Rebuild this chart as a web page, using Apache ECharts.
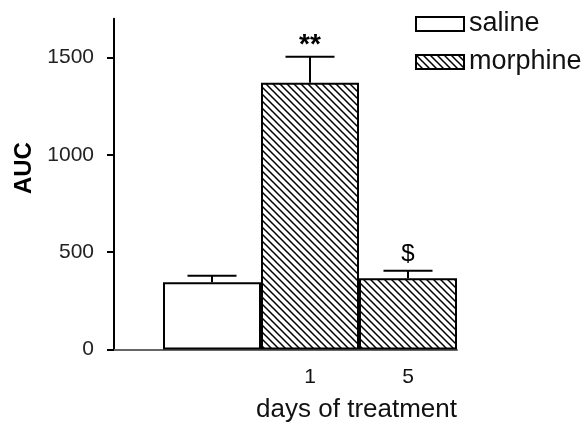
<!DOCTYPE html>
<html><head><meta charset="utf-8">
<script src="https://cdn.jsdelivr.net/npm/echarts@6/dist/echarts.min.js"></script>
<style>html,body{margin:0;padding:0;background:#fff}#c{width:585px;height:424px}</style>
</head><body><div id="c"></div>
<script>
// ---- data ----
const seriesNames = ['saline', 'morphine'];
const slotTickLabels = ['', '', '1', '5'];   // x tick labels by slot
const salineSlots = [1];
const salineMean = [345];
const salineSem = [34];
const morphineSlots = [2, 3];
const morphineMean = [1371, 366];
const morphineSem = [134, 39];
const morphineMarks = ['**', '$'];
const yTicks = [0, 500, 1000, 1500];

// ---- styles ----
const markStyle = {
  '**': { fontSize: 28, fontWeight: 'bold', gap: -3 },
  '$':  { fontSize: 24, fontWeight: 'normal', gap: 4 }
};
const FONT = '"Liberation Sans", Arial, Helvetica, sans-serif';

function hatch() {
  const s = 7, c = document.createElement('canvas');
  c.width = s; c.height = s;
  const g = c.getContext('2d');
  g.fillStyle = '#fff'; g.fillRect(0, 0, s, s);
  g.strokeStyle = '#000'; g.lineWidth = 1.5;
  g.beginPath();
  g.moveTo(-1, -1); g.lineTo(s + 1, s + 1);
  g.moveTo(-1, s - 1); g.lineTo(1, s + 1);
  g.moveTo(s - 1, -1); g.lineTo(s + 1, 1);
  g.stroke();
  return c;
}

function errRender(marks) {
  return function (params, api) {
    const x = api.value(0), m = api.value(1), e = api.value(2);
    const base = api.coord([x, m]), top = api.coord([x, m + e]);
    const half = api.size([1, 0])[0] * 0.25;
    const ls = { stroke: '#000', lineWidth: 2 };
    const children = [
      { type: 'line', shape: { x1: base[0], y1: base[1], x2: top[0], y2: top[1] }, style: ls },
      { type: 'line', shape: { x1: top[0] - half, y1: top[1], x2: top[0] + half, y2: top[1] }, style: ls }
    ];
    const mk = marks && marks[params.dataIndex];
    if (mk) {
      const st = markStyle[mk];
      children.push({
        type: 'text',
        style: {
          text: mk, x: top[0], y: top[1] - st.gap,
          align: 'center', verticalAlign: 'bottom',
          font: st.fontWeight + ' ' + st.fontSize + 'px ' + FONT,
          fill: '#000'
        }
      });
    }
    return { type: 'group', children: children };
  };
}

const chart = echarts.init(document.getElementById('c'), null, { renderer: 'canvas' });
const pattern = { image: hatch(), repeat: 'repeat' };

chart.setOption({
  animation: false,
  backgroundColor: '#fff',
  textStyle: { fontFamily: FONT },
  grid: { left: 114, right: 128, top: 18.7, bottom: 74.5 },
  legend: {
    data: seriesNames,
    orient: 'vertical',
    left: 415, top: 9, padding: 0,
    itemWidth: 48, itemHeight: 14, itemGap: 8,
    icon: 'rect',
    textStyle: { fontSize: 27, lineHeight: 30, color: '#111', fontFamily: FONT }
  },
  xAxis: {
    type: 'value', min: 0, max: 3.5, interval: 1,
    splitLine: { show: false },
    axisTick: { show: false },
    axisLine: { show: true, lineStyle: { color: '#666', width: 2 } },
    axisLabel: {
      margin: 17, fontSize: 21, color: '#111', fontFamily: FONT,
      formatter: v => slotTickLabels[v] || ''
    },
    name: 'days of treatment',
    nameLocation: 'end', nameGap: 0,
    nameTextStyle: { fontSize: 26, color: '#111', align: 'right', verticalAlign: 'top', padding: [47, 0, 0, 0] }
  },
  yAxis: {
    type: 'value', min: 0, max: 1700, interval: 500,
    splitLine: { show: false },
    axisLine: { show: true, lineStyle: { color: '#000', width: 2 } },
    axisTick: { show: true, length: 7, customValues: yTicks, lineStyle: { color: '#000', width: 2 } },
    axisLabel: { margin: 20, fontSize: 21, color: '#222', fontFamily: FONT, customValues: yTicks, formatter: v => String(v) },
    name: 'AUC', nameLocation: 'middle', nameGap: 76,
    nameTextStyle: { fontSize: 24, fontWeight: 'bold', color: '#000', padding: [0, 0, 0, 32] }
  },
  series: [
    {
      name: 'saline', type: 'bar', barWidth: 98, barGap: '-100%',
      data: salineSlots.map((s, i) => [s, salineMean[i]]),
      itemStyle: { color: '#fff', borderColor: '#000', borderWidth: 2 },
      z: 2
    },
    {
      name: 'morphine', type: 'bar', barWidth: 98, barGap: '-100%',
      data: morphineSlots.map((s, i) => [s, morphineMean[i]]),
      itemStyle: { color: pattern, borderColor: '#000', borderWidth: 2 },
      z: 2
    },
    {
      name: 'saline-sem', type: 'custom', renderItem: errRender(null),
      data: salineSlots.map((s, i) => [s, salineMean[i], salineSem[i]]),
      z: 3, silent: true
    },
    {
      name: 'morphine-sem', type: 'custom', renderItem: errRender(morphineMarks),
      data: morphineSlots.map((s, i) => [s, morphineMean[i], morphineSem[i]]),
      z: 3, silent: true
    }
  ]
});
</script></body></html>
